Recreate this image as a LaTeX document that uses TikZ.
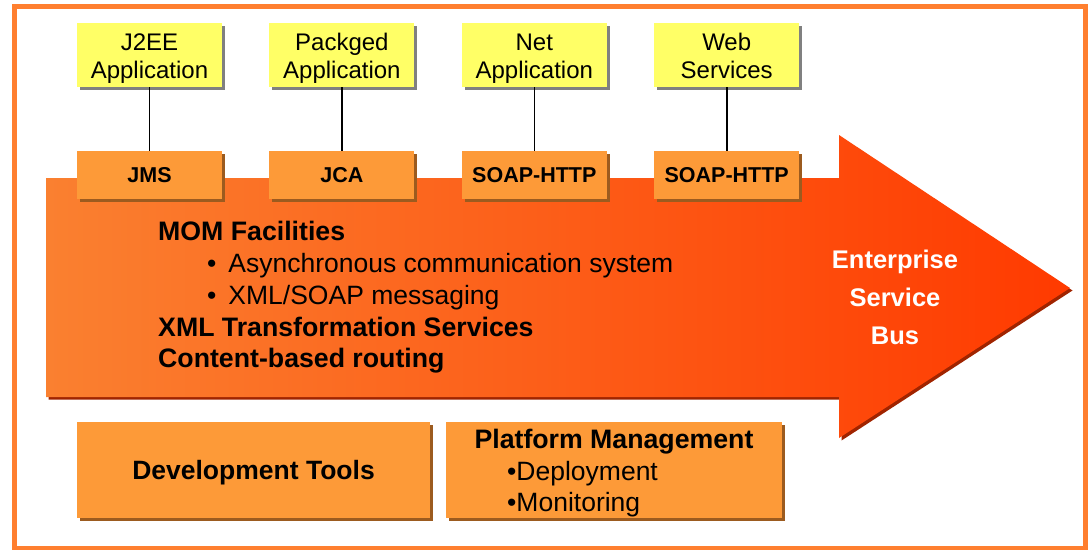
\documentclass[tikz,border=0pt]{standalone}
\usepackage{fontspec}
\setmainfont{Liberation Sans}
\usetikzlibrary{positioning,shadows}
\definecolor{frameorange}{RGB}{255,127,47}
\definecolor{appyellow}{RGB}{255,255,102}
\definecolor{appshadow}{RGB}{128,128,128}
\definecolor{portorange}{RGB}{253,154,56}
\definecolor{portshadow}{RGB}{156,91,31}
\definecolor{busleft}{RGB}{250,128,48}
\definecolor{busright}{RGB}{255,58,0}
\definecolor{busshadow}{RGB}{160,36,0}
\newcommand{\apptext}[2]{\rule{0pt}{24pt}#1\\#2\rule[-5pt]{0pt}{5pt}}

\begin{document}
\begin{tikzpicture}[x=1pt,y=-1pt,node distance=47pt,
  app/.style={fill=appyellow,minimum width=145pt,minimum height=64pt,inner sep=0pt,align=center,font=\fontsize{24}{28}\selectfont,drop shadow={shadow xshift=3pt,shadow yshift=-3pt,fill=appshadow,opacity=1}},
  port/.style={fill=portorange,minimum width=145pt,minimum height=48pt,inner sep=0pt,font=\bfseries\fontsize{21.5}{26}\selectfont,drop shadow={shadow xshift=3pt,shadow yshift=-3pt,fill=portshadow,opacity=1}},
  tool/.style={fill=portorange,minimum height=96pt,inner sep=0pt,drop shadow={shadow xshift=3pt,shadow yshift=-3pt,fill=portshadow,opacity=1}},
  head/.style={anchor=base west,inner sep=0pt,font=\bfseries\fontsize{26.7}{30}\selectfont},
  item/.style={anchor=base west,inner sep=0pt,font=\fontsize{26.5}{30}\selectfont}]
\useasboundingbox (0,0) rectangle (1091,549);
\draw[frameorange,line width=5pt] (14,6.5) rectangle (1085.5,548.5);

% the bus arrow
\fill[busshadow,xshift=2.5pt,yshift=-2.5pt] (46,178) -- (839,178) -- (839,135) -- (1070,288) -- (839,438) -- (839,397) -- (46,397) -- cycle;
\shade[left color=busleft,right color=busright] (46,178) -- (839,178) -- (839,135) -- (1070,288) -- (839,438) -- (839,397) -- (46,397) -- cycle;

\node[app] (j2ee) at (149.5,55) {\apptext{J2EE}{Application}};
\node[app] (pack) [right=of j2ee] {\apptext{Packged}{Application}};
\node[app] (net) [right=of pack] {\apptext{Net}{Application}};
\node[app] (web) [right=of net] {\apptext{Web}{Services}};
\node[port] (jms) [below=64pt of j2ee] {JMS};
\node[port] (jca) [below=64pt of pack] {JCA};
\node[port] (soap1) [below=64pt of net] {SOAP-HTTP};
\node[port] (soap2) [below=64pt of web] {SOAP-HTTP};
\draw[line width=1.6pt] (j2ee) -- (jms);
\draw[line width=1.6pt] (pack) -- (jca);
\draw[line width=1.6pt] (net) -- (soap1);
\draw[line width=1.6pt] (web) -- (soap2);

\node[head] (mom) at (158,240) {MOM Facilities};
\node[item] (async) at (207,272) {•\hspace{12pt}Asynchronous communication system};
\node[item] (xmlsoap) at (207,304) {•\hspace{12pt}XML/SOAP messaging};
\node[head] (xslt) at (158,336) {XML Transformation Services};
\node[head] (cbr) at (158,367) {Content-based routing};
\node[align=center,text=white,font=\bfseries\fontsize{25.5}{38}\selectfont] (esb) at (895,297) {Enterprise\\Service\\Bus};

\node[tool,minimum width=353pt,text depth=0pt,font=\bfseries\fontsize{26.5}{30}\selectfont] (dev) at (253.5,470) {Development Tools};
\node[tool,minimum width=336pt] (plat) at (614,470) {};
\node[head,anchor=base] (pmhead) at (614,448) {Platform Management};
\node[item] (deploy) at (507,480) {•Deployment};
\node[item] (monit) at (507,511) {•Monitoring};
\end{tikzpicture}
\end{document}
